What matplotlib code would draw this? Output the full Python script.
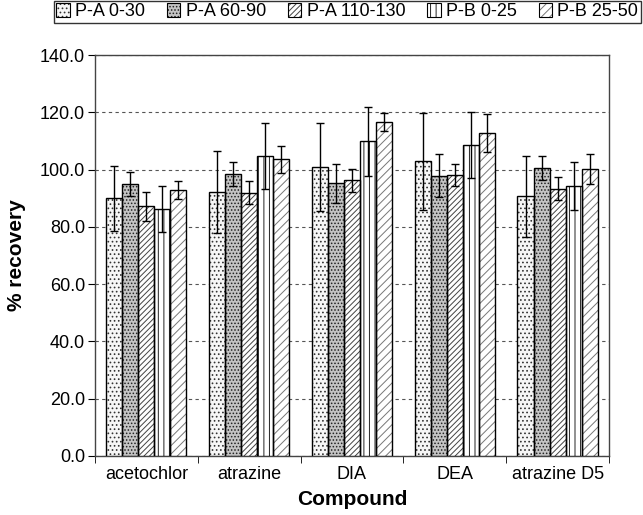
import matplotlib
matplotlib.use("Agg")
import matplotlib.pyplot as plt
from matplotlib.legend_handler import HandlerTuple
import numpy as np

plt.rcParams['font.family'] = ['Liberation Sans', 'DejaVu Sans']
plt.rcParams['hatch.linewidth'] = 0.7

compounds = ["acetochlor", "atrazine", "DIA", "DEA", "atrazine D5"]
series = ["P-A 0-30", "P-A 60-90", "P-A 110-130", "P-B 0-25", "P-B 25-50"]

pa_0_30 = [90.0, 92.3, 100.8, 102.9, 90.6]
pa_0_30_err = [11.4, 14.3, 15.4, 17.0, 14.0]
pa_60_90 = [94.9, 98.5, 95.3, 97.9, 100.5]
pa_60_90_err = [4.2, 4.1, 6.8, 7.6, 4.2]
pa_110_130 = [87.2, 91.9, 96.2, 98.1, 93.3]
pa_110_130_err = [5.1, 4.0, 4.0, 3.9, 4.0]
pb_0_25 = [86.2, 104.8, 109.9, 108.6, 94.2]
pb_0_25_err = [8.1, 11.6, 12.0, 11.6, 8.4]
pb_25_50 = [92.9, 103.6, 116.7, 112.7, 100.1]
pb_25_50_err = [3.2, 4.7, 3.2, 6.7, 5.3]

values = [pa_0_30, pa_60_90, pa_110_130, pb_0_25, pb_25_50]
errors = [pa_0_30_err, pa_60_90_err, pa_110_130_err, pb_0_25_err, pb_25_50_err]

# fill colour, hatch pattern and hatch colour for each series
fills = ["#f6f6f6", "#c4c4c4", "#ffffff", "#ffffff", "#ffffff"]
hatches = ["....", ".....", "//////", "|||", "////"]
hatch_colors = ["#333333", "#222222", "#444444", "#222222", "#777777"]

fig = plt.figure(figsize=(6.43, 5.15), dpi=100)
ax = fig.add_axes([0.1477, 0.1146, 0.7994, 0.7786])

x = np.arange(len(compounds))
n = len(series)
group_w = 0.78
w = group_w / n
handles = []
for i in range(n):
    pos = x - group_w / 2 + w * (i + 0.5)
    # patterned fill, then a plain black outline on top
    ax.bar(pos, values[i], width=w, color=fills[i], edgecolor=hatch_colors[i],
           hatch=hatches[i], linewidth=0, zorder=3)
    ax.bar(pos, values[i], width=w, fill=False, edgecolor="black",
           linewidth=1.0, zorder=3.5)
    ax.errorbar(pos, values[i], yerr=errors[i], fmt="none", ecolor="black",
                elinewidth=1.0, capsize=3, capthick=1.0, zorder=4)
    swatch = plt.Rectangle((0, 0), 1, 1, facecolor=fills[i],
                           edgecolor=hatch_colors[i], hatch=hatches[i],
                           linewidth=0)
    outline = plt.Rectangle((0, 0), 1, 1, fill=False, edgecolor="black",
                            linewidth=0.8)
    handles.append((swatch, outline))

ax.set_ylim(0, 140)
ax.set_xlim(-0.5, len(compounds) - 0.5)
yt = np.arange(0, 141, 20)
ax.set_yticks(yt)
ax.set_yticklabels([f"{v:.1f}" for v in yt], fontsize=13)
ax.yaxis.grid(True, linestyle=(0, (3, 3)), color="#555555", linewidth=0.8, zorder=0)
ax.set_axisbelow(True)

ax.set_xticks(x)
ax.set_xticklabels(compounds, fontsize=13)
ax.tick_params(axis="x", length=0, pad=7)
ax.set_xticks(np.arange(-0.5, len(compounds)), minor=True)
ax.tick_params(axis="x", which="minor", length=5, direction="out")
ax.tick_params(axis="y", length=5, direction="out", pad=2)

for s in ax.spines.values():
    s.set_color("#444444")
    s.set_linewidth(1.0)

ax.set_ylabel("% recovery", fontsize=15, fontweight="bold", labelpad=10)
ax.set_xlabel("Compound", fontsize=15, fontweight="bold", labelpad=5)

leg = fig.legend(handles=handles, labels=series, loc="upper right",
                 bbox_to_anchor=(0.997, 0.999), ncol=5, fontsize=13,
                 handler_map={tuple: HandlerTuple(ndivide=1)},
                 frameon=True, fancybox=False, edgecolor="black",
                 handlelength=0.75, handleheight=0.75, handletextpad=0.3,
                 columnspacing=1.2, borderpad=0.15, borderaxespad=0.0)
leg.get_frame().set_linewidth(1.0)

fig.savefig("out.png", dpi=100, facecolor="white")
